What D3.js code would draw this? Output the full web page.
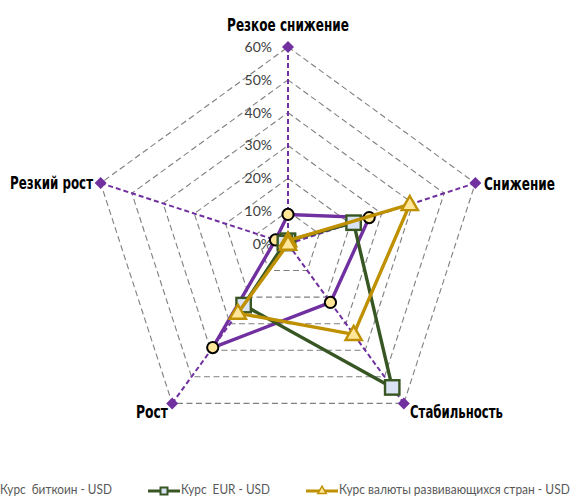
<!DOCTYPE html>
<html><head><meta charset="utf-8">
<script src="https://cdn.jsdelivr.net/npm/d3@7"></script>
<style>html,body{margin:0;padding:0;background:#fff;}svg{display:block;}</style>
</head><body>
<svg id="c" width="577" height="498"></svg>
<script>
const categories = ["Резкое снижение", "Снижение", "Стабильность", "Рост", "Резкий рост"];
const seriesNames = ["Курс  биткоин - USD", "Курс  EUR - USD", "Курс валюты развивающихся стран - USD"];
const bitcoin = [0.09, 0.26, 0.22, 0.39, 0.04];
const eur = [0.01, 0.21, 0.54, 0.23, 0.01];
const emerging = [0.01, 0.39, 0.34, 0.26, 0.00];
const tickValues = [0, 0.1, 0.2, 0.3, 0.4, 0.5, 0.6];

const svg = d3.select("#c");
const cx = 288, cy = 244, R = 197;
const r = d3.scaleLinear().domain([0, 0.6]).range([0, R]);
const ang = d3.scalePoint().domain(d3.range(categories.length + 1)).range([-Math.PI / 2, -Math.PI / 2 + 2 * Math.PI]);
const pt = (i, v) => [cx + r(v) * Math.cos(ang(i)), cy + r(v) * Math.sin(ang(i))];

// fit a text to a target width by horizontal scaling
function fitText(sel, x, y, anchor, w) {
  const nat = sel.node().getComputedTextLength();
  const k = Math.min(1.15, w / nat);
  sel.attr("text-anchor", anchor).attr("x", 0).attr("y", 0)
    .attr("transform", `translate(${x},${y}) scale(${k},1)`);
}

// grid rings
tickValues.slice(1).forEach(t => {
  const pts = categories.map((c, i) => pt(i, t));
  svg.append("path").attr("d", d3.line()(pts) + "Z")
    .attr("fill", "none").attr("stroke", "#7f7f7f").attr("stroke-width", 1.1)
    .attr("stroke-dasharray", "6,3.5");
});

// spokes (purple dashed)
categories.forEach((c, i) => {
  const [x, y] = pt(i, 0.6);
  svg.append("line").attr("x1", cx).attr("y1", cy).attr("x2", x).attr("y2", y)
    .attr("stroke", "#7030a0").attr("stroke-width", 2).attr("stroke-dasharray", "5,3");
});
categories.forEach((c, i) => {
  const [x, y] = pt(i, 0.6);
  svg.append("path").attr("d", d3.symbol(d3.symbolSquare, 72)())
    .attr("transform", `translate(${x},${y}) rotate(45)`).attr("fill", "#7030a0");
});

// tick labels
svg.append("g").selectAll("text").data(tickValues).join("text")
  .attr("x", 272).attr("y", d => cy - r(d)).attr("dy", "0.35em")
  .attr("text-anchor", "end").attr("font-family", "Lato, 'Open Sans', sans-serif")
  .attr("font-size", 14).attr("fill", "#404040")
  .text(d => d3.format(".0%")(d));

// category labels
const labelPos = [
  {x: 288, y: 25, anchor: "middle", w: 122},
  {x: 484, y: 184, anchor: "start", w: 71},
  {x: 410, y: 412, anchor: "start", w: 93},
  {x: 168, y: 412, anchor: "end", w: 32},
  {x: 93, y: 183, anchor: "end", w: 83}
];
categories.forEach((c, i) => {
  const p = labelPos[i];
  const t = svg.append("text").attr("dy", "0.35em")
    .attr("font-family", "'Liberation Sans Narrow', 'DejaVu Sans Condensed', sans-serif")
    .attr("font-weight", "bold").attr("font-size", 18.5).attr("fill", "#000")
    .text(c);
  fitText(t, p.x, p.y, p.anchor, p.w);
});

const styles = [
  {data: bitcoin, color: "#7030a0", marker: "circle", fill: "#ffe699"},
  {data: eur, color: "#375623", marker: "square", fill: "#dae3f3"},
  {data: emerging, color: "#bf9000", marker: "triangle", fill: "#ffe699"}
];

function drawMarker(g, type, x, y, s) {
  if (type === "circle") {
    g.append("circle").attr("cx", x).attr("cy", y).attr("r", 5.6)
      .attr("fill", s.fill).attr("stroke", "#000").attr("stroke-width", 2);
  } else if (type === "square") {
    g.append("rect").attr("x", x - 7.2).attr("y", y - 7.2).attr("width", 14.4).attr("height", 14.4)
      .attr("fill", s.fill).attr("stroke", s.color).attr("stroke-width", 2.4);
  } else {
    g.append("path").attr("d", d3.symbol(d3.symbolTriangle, 115)())
      .attr("transform", `translate(${x},${y + 1})`)
      .attr("fill", s.fill).attr("stroke", s.color).attr("stroke-width", 2.4).attr("stroke-linejoin", "miter");
  }
}

styles.forEach(s => {
  const g = svg.append("g");
  const pts = s.data.map((v, i) => pt(i, v));
  g.append("path").attr("d", d3.line()(pts) + "Z")
    .attr("fill", "none").attr("stroke", s.color).attr("stroke-width", 3.4).attr("stroke-linejoin", "round");
  pts.forEach(p => drawMarker(g, s.marker, p[0], p[1], s));
});

// legend
const legX = [-33, 148, 306];
const legW = [112, 89, 231];
const leg = svg.append("g");
seriesNames.forEach((n, i) => {
  const s = styles[i];
  const x0 = legX[i], y0 = 491;
  leg.append("line").attr("x1", x0).attr("x2", x0 + 32).attr("y1", y0).attr("y2", y0)
    .attr("stroke", s.color).attr("stroke-width", 3);
  const g = leg.append("g");
  if (s.marker === "circle") {
    g.append("circle").attr("cx", x0 + 16).attr("cy", y0).attr("r", 3.5)
      .attr("fill", s.fill).attr("stroke", "#000").attr("stroke-width", 1.2);
  } else if (s.marker === "square") {
    g.append("rect").attr("x", x0 + 12.5).attr("y", y0 - 3.5).attr("width", 7).attr("height", 7)
      .attr("fill", s.fill).attr("stroke", s.color).attr("stroke-width", 2);
  } else {
    g.append("path").attr("d", d3.symbol(d3.symbolTriangle, 30)())
      .attr("transform", `translate(${x0 + 16},${y0})`)
      .attr("fill", s.fill).attr("stroke", s.color).attr("stroke-width", 1.5);
  }
  const t = leg.append("text")
    .attr("font-family", "Lato, 'Open Sans', sans-serif").attr("font-size", 12.5)
    .attr("fill", "#595959").attr("xml:space", "preserve").style("white-space", "pre")
    .text(n);
  fitText(t, x0 + 33, 494, "start", legW[i]);
});
</script>
</body></html>
